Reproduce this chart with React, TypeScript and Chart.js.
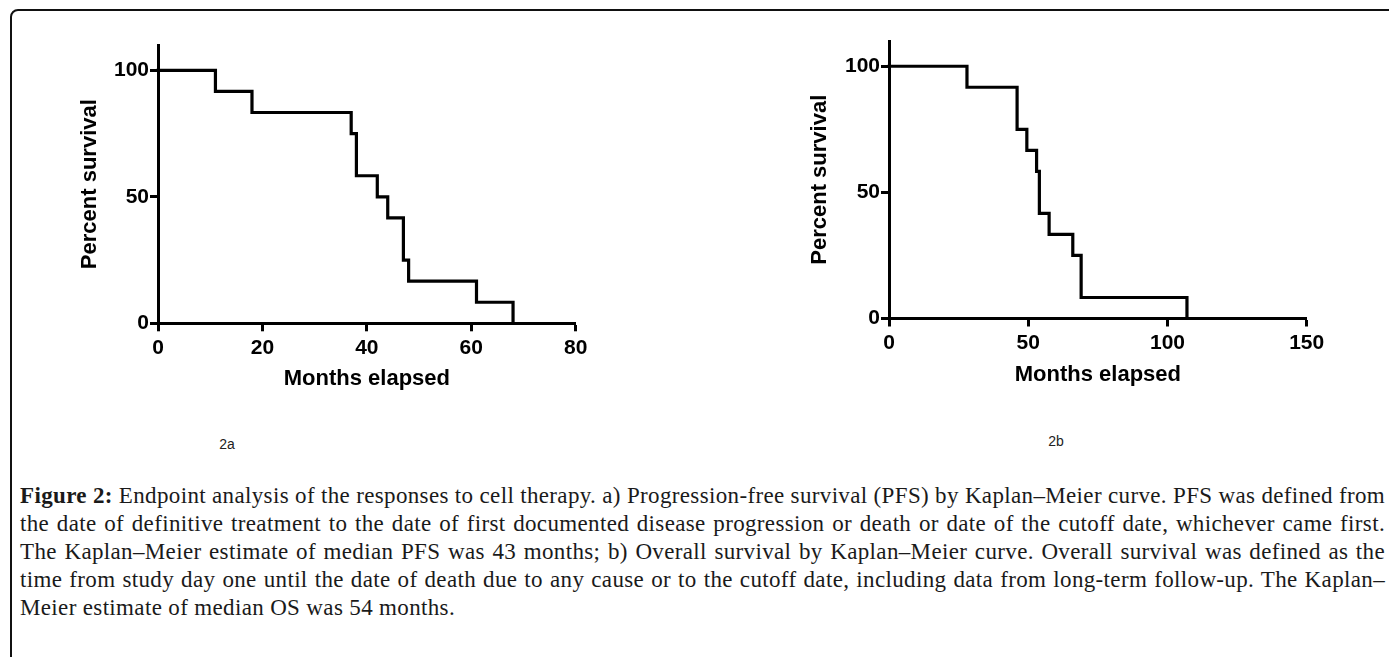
import React, { useEffect, useLayoutEffect, useRef, useState } from 'react';
import { Chart, registerables } from 'chart.js';

Chart.register(...registerables);

// ---- data ----
const pfsMonths = [0, 11, 18, 37, 38, 42, 44, 47, 48, 61, 68];
const pfsSurvival = [100, 91.67, 83.33, 75, 58.33, 50, 41.67, 25, 16.67, 8.33, 0];
const osMonths = [0, 28, 46, 49.5, 53, 54, 57.5, 66, 69, 107];
const osSurvival = [100, 91.67, 75, 66.67, 58.33, 41.67, 33.33, 25, 8.33, 0];
const yTickValues = [0, 50, 100];
const pfsXTicks = [0, 20, 40, 60, 80];
const osXTicks = [0, 50, 100, 150];
const xTitleText = 'Months elapsed';
const yTitleText = 'Percent survival';
const panelLabels = ['2a', '2b'];
const captionBold = 'Figure 2:';
const captionLines = [
  ' Endpoint analysis of the responses to cell therapy. a) Progression-free survival (PFS) by Kaplan–Meier curve. PFS was defined from',
  'the date of definitive treatment to the date of first documented disease progression or death or date of the cutoff date, whichever came first.',
  'The Kaplan–Meier estimate of median PFS was 43 months; b) Overall survival by Kaplan–Meier curve. Overall survival was defined as the',
  'time from study day one until the date of death due to any cause or to the cutoff date, including data from long-term follow-up. The Kaplan–',
  'Meier estimate of median OS was 54 months.',
];

const SANS = '"Liberation Sans", Arial, sans-serif';
const SERIF = '"Liberation Serif", "Times New Roman", serif';

type Geo = {
  left: number; top: number; width: number; height: number;
  padTop: number; padRight: number; yWidth: number; xHeight: number;
  yTitlePad: number; xTitlePad: number;
};

function KMChart(props: { months: number[]; survival: number[]; xTicks: number[]; xMax: number; geo: Geo }) {
  const ref = useRef<HTMLCanvasElement | null>(null);
  const { months, survival, xTicks, xMax, geo } = props;
  useEffect(() => {
    if (!ref.current) return;
    const points = months.map((m, i) => ({ x: m, y: survival[i] }));
    const tickFont = { family: SANS, size: 21, weight: 'bold' as const };
    const titleFont = { family: SANS, size: 22, weight: 'bold' as const };
    const chart = new Chart(ref.current, {
      type: 'line',
      data: {
        datasets: [
          {
            data: points,
            stepped: 'before',
            borderColor: '#000',
            borderWidth: 3.2,
            pointRadius: 0,
            fill: false,
            clip: false as any,
            borderJoinStyle: 'miter',
            borderCapStyle: 'square',
          } as any,
        ],
      },
      options: {
        animation: false,
        responsive: false,
        maintainAspectRatio: false,
        events: [],
        layout: { padding: { top: geo.padTop, right: geo.padRight, left: 0, bottom: 0 } },
        plugins: { legend: { display: false }, tooltip: { enabled: false } },
        scales: {
          x: {
            type: 'linear',
            min: 0,
            max: xMax,
            afterBuildTicks: (s: any) => {
              s.ticks = xTicks.map((v) => ({ value: v }));
            },
            afterFit: (s: any) => {
              s.height = geo.xHeight;
              s.paddingLeft = 0;
              s.paddingRight = 0;
            },
            grid: { drawOnChartArea: false, drawTicks: true, tickLength: 8, tickWidth: 3, tickColor: '#000' },
            border: { display: true, width: 3, color: '#000' },
            ticks: { color: '#000', font: tickFont, padding: 4, maxRotation: 0, autoSkip: false },
            title: { display: true, text: xTitleText, color: '#000', font: titleFont, padding: { top: 0, bottom: geo.xTitlePad } },
          },
          y: {
            type: 'linear',
            min: 0,
            max: 110,
            afterBuildTicks: (s: any) => {
              s.ticks = yTickValues.map((v) => ({ value: v }));
            },
            afterFit: (s: any) => {
              s.width = geo.yWidth;
              s.paddingTop = 0;
              s.paddingBottom = 0;
            },
            grid: { drawOnChartArea: false, drawTicks: true, tickLength: 8, tickWidth: 3, tickColor: '#000' },
            border: { display: true, width: 3, color: '#000' },
            ticks: { color: '#000', font: tickFont, padding: 1, autoSkip: false },
            title: { display: true, text: yTitleText, color: '#000', font: titleFont, padding: { top: geo.yTitlePad, bottom: 0 } },
          },
        },
      } as any,
    });
    return () => chart.destroy();
  }, []);
  return (
    <canvas
      ref={ref}
      width={geo.width}
      height={geo.height}
      style={{ position: 'absolute', left: geo.left, top: geo.top, width: geo.width, height: geo.height }}
    />
  );
}

const CAP_LEFT = 20;
const CAP_WIDTH = 1365;
const CAP_TOP = 481.5;
const CAP_LH = 28.1;

function Caption() {
  const refs = useRef<(HTMLSpanElement | null)[]>([]);
  const [spacing, setSpacing] = useState<number[]>(captionLines.map(() => 0));
  useLayoutEffect(() => {
    const res = captionLines.map((line, i) => {
      if (i === captionLines.length - 1) return 0;
      const el = refs.current[i];
      if (!el) return 0;
      const w = el.getBoundingClientRect().width;
      const full = i === 0 ? captionBold + line : line;
      const spaces = (full.match(/ /g) || []).length;
      return spaces > 0 ? (CAP_WIDTH - w) / spaces : 0;
    });
    setSpacing(res);
  }, []);
  return (
    <div style={{ position: 'absolute', left: CAP_LEFT, top: CAP_TOP, width: CAP_WIDTH }}>
      {captionLines.map((line, i) => (
        <div
          key={i}
          style={{
            height: CAP_LH,
            lineHeight: CAP_LH + 'px',
            fontFamily: SERIF,
            fontSize: 23,
            letterSpacing: 0.35,
            color: '#1a1a1a',
            whiteSpace: 'pre',
          }}
        >
          <span ref={(el) => { refs.current[i] = el; }} style={{ wordSpacing: spacing[i] }}>
            {i === 0 ? <b>{captionBold}</b> : null}
            {line}
          </span>
        </div>
      ))}
    </div>
  );
}

const leftGeo: Geo = {
  left: 60, top: 25, width: 560, height: 380,
  padTop: 20, padRight: 44.3, yWidth: 98, xHeight: 81.7,
  yTitlePad: 17.1, xTitlePad: 12.8,
};
const rightGeo: Geo = {
  left: 780, top: 20, width: 580, height: 385,
  padTop: 21, padRight: 53.3, yWidth: 109, xHeight: 86.5,
  yTitlePad: 26.8, xTitlePad: 16.8,
};

export default function App() {
  return (
    <div style={{ position: 'absolute', left: 0, top: 0, width: 1389, height: 657, overflow: 'hidden', background: '#fff' }}>
      <div
        style={{
          position: 'absolute', left: 10, top: 9, width: 1440, height: 720,
          border: '2px solid #111', borderRadius: 8, boxSizing: 'border-box',
        }}
      />
      <KMChart months={pfsMonths} survival={pfsSurvival} xTicks={pfsXTicks} xMax={80} geo={leftGeo} />
      <KMChart months={osMonths} survival={osSurvival} xTicks={osXTicks} xMax={150} geo={rightGeo} />
      <div style={{ position: 'absolute', left: 207, top: 436, width: 40, textAlign: 'center', fontFamily: SANS, fontSize: 14, lineHeight: '16px', color: '#222' }}>
        {panelLabels[0]}
      </div>
      <div style={{ position: 'absolute', left: 1036, top: 433, width: 40, textAlign: 'center', fontFamily: SANS, fontSize: 14, lineHeight: '16px', color: '#222' }}>
        {panelLabels[1]}
      </div>
      <Caption />
    </div>
  );
}
